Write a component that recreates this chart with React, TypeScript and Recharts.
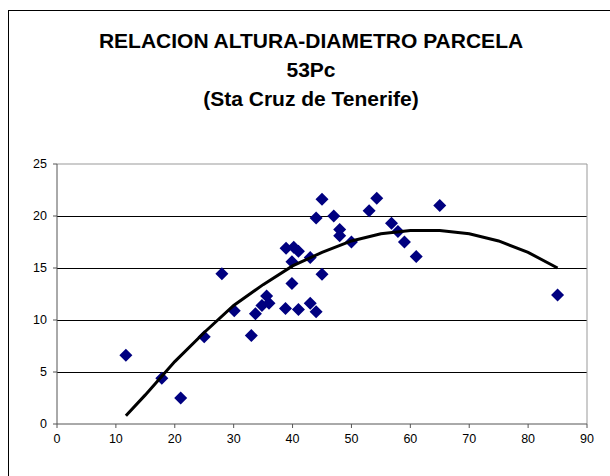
import { ScatterChart, Scatter, XAxis, YAxis, CartesianGrid, ReferenceLine } from 'recharts';

// diametro (cm) / altura (m) de cada arbol medido
const diametro = [
  11.7, 17.8, 21, 25, 28, 30.1, 33, 33.7, 34.8, 35.6, 36, 38.8, 38.9, 39.9, 39.9, 40.2,
  41, 41, 43, 43, 44, 44, 45, 45, 47, 48, 48, 50, 53, 54.3, 56.8, 57.9, 59, 61, 65, 85
];
const altura = [
  6.6, 4.4, 2.5, 8.4, 14.45, 10.9, 8.5, 10.6, 11.4, 12.3, 11.6, 11.1, 16.9, 13.5, 15.6, 17.0,
  16.6, 11.0, 16.0, 11.6, 10.8, 19.8, 21.6, 14.4, 20.0, 18.7, 18.1, 17.5, 20.5, 21.7, 19.3, 18.5,
  17.5, 16.1, 21.0, 12.4
];

// linea de tendencia
const tendX = [11.7, 15, 20, 25, 30, 35, 40, 45, 50, 55, 60, 65, 70, 75, 80, 85];
const tendY = [0.8, 2.8, 6.0, 8.8, 11.4, 13.4, 15.2, 16.5, 17.6, 18.3, 18.6, 18.6, 18.3, 17.6, 16.5, 15.0];

const xTicks = [0, 10, 20, 30, 40, 50, 60, 70, 80, 90];
const yTicks = [0, 5, 10, 15, 20, 25];
const titulo = ['RELACION ALTURA-DIAMETRO PARCELA', '53Pc', '(Sta Cruz de Tenerife)'];

const puntos = diametro.map((d, i) => ({ x: d, y: altura[i] }));
const tendencia = tendX.map((d, i) => ({ x: d, y: tendY[i] }));

const font = 'Arial, "Liberation Sans", sans-serif';

const Rombo = (props: any) => {
  const { cx, cy } = props;
  const r = 6.5;
  return (
    <polygon
      points={`${cx},${cy - r} ${cx + r},${cy} ${cx},${cy + r} ${cx - r},${cy}`}
      fill="#000080"
    />
  );
};

export default function App() {
  return (
    <div style={{ position: 'absolute', left: 0, top: 0, width: 610, height: 476, overflow: 'hidden', background: '#fff' }}>
      <div style={{ position: 'absolute', left: 8, top: 10, width: 700, height: 700, border: '1px solid #000' }} />
      <div
        style={{
          position: 'absolute',
          left: 0,
          top: 26,
          width: 622,
          textAlign: 'center',
          fontFamily: font,
          fontWeight: 'bold',
          fontSize: 21,
          lineHeight: '29px',
          color: '#000'
        }}
      >
        {titulo.map((t) => (
          <div key={t}>{t}</div>
        ))}
      </div>
      <div style={{ position: 'absolute', left: 0, top: 0 }}>
        <ScatterChart width={610} height={476} margin={{ top: 164, right: 23, bottom: 22, left: 0 }}>
          <CartesianGrid
            horizontal={true}
            vertical={false}
            stroke="#000"
            strokeOpacity={1}
            shapeRendering="crispEdges"
            horizontalValues={[5, 10, 15, 20]}
          />
          <XAxis
            type="number"
            dataKey="x"
            domain={[0, 90]}
            ticks={xTicks}
            interval={0}
            height={30}
            tickSize={4}
            tickMargin={6}
            stroke="#555"
            tick={{ fontSize: 12.5, fill: '#000', fontFamily: font }}
          />
          <YAxis
            type="number"
            dataKey="y"
            domain={[0, 25]}
            ticks={yTicks}
            interval={0}
            width={57}
            tickSize={4}
            tickMargin={6}
            stroke="#555"
            tick={{ fontSize: 12.5, fill: '#000', fontFamily: font }}
          />
          <ReferenceLine y={25} stroke="#999" />
          <ReferenceLine x={90} stroke="#999" />
          <Scatter data={puntos} shape={Rombo} isAnimationActive={false} />
          <Scatter
            data={tendencia}
            line={{ stroke: '#000', strokeWidth: 3 }}
            shape={() => <g />}
            isAnimationActive={false}
          />
        </ScatterChart>
      </div>
    </div>
  );
}
